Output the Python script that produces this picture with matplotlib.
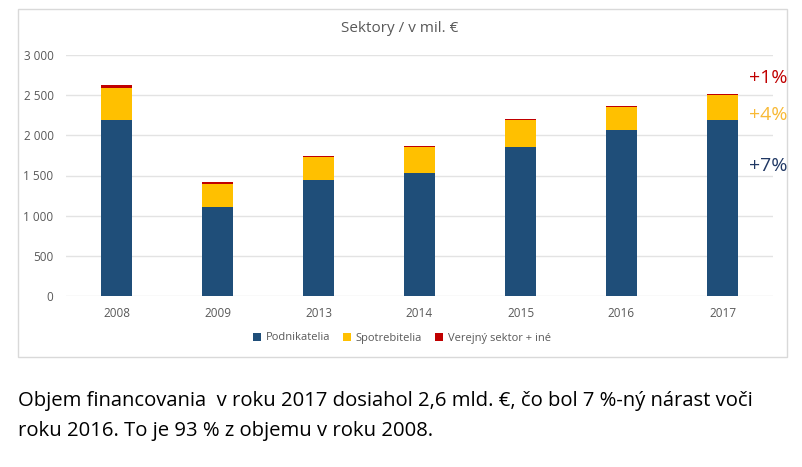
import numpy as np
import matplotlib.pyplot as plt
from matplotlib.patches import Rectangle

# Data (mil. EUR)
years = ['2008', '2009', '2013', '2014', '2015', '2016', '2017']
podnikatelia = [2190, 1105, 1440, 1530, 1860, 2065, 2195]
spotrebitelia = [405, 290, 295, 330, 330, 292, 307]
verejny = [33, 28, 12, 12, 12, 13, 15]
growth_labels = ['+1%', '+4%', '+7%']
series_names = ['Podnikatelia', 'Spotrebitelia', 'Verejný sektor + iné']

c_blue = '#1F4E79'
c_yellow = '#FFC000'
c_red = '#C00000'
grey = '#595959'

plt.rcParams['font.family'] = ['Open Sans', 'DejaVu Sans']

W, H = 802, 467
fig = plt.figure(figsize=(W / 100, H / 100), dpi=100)
fig.patch.set_facecolor('white')

# chart frame
fig.patches.append(Rectangle((18 / W, 1 - 357 / H), (787 - 18) / W, (357 - 9) / H,
                             transform=fig.transFigure, fill=False,
                             edgecolor='#D9D9D9', linewidth=1))

ax = fig.add_axes([66 / W, 1 - 296 / H, (773 - 66) / W, (296 - 55) / H])
x = np.arange(len(years))
w = 0.31
b1 = np.array(podnikatelia)
b2 = b1 + np.array(spotrebitelia)

ax.bar(x, podnikatelia, w, color=c_blue, label=series_names[0], zorder=3)
ax.bar(x, spotrebitelia, w, bottom=b1, color=c_yellow, label=series_names[1], zorder=3)
ax.bar(x, verejny, w, bottom=b2, color=c_red, label=series_names[2], zorder=3)

ax.set_xlim(-0.5, len(years) - 0.5)
ax.set_ylim(0, 3000)
ax.set_yticks(range(0, 3001, 500))
ax.set_yticklabels([f'{v:,}'.replace(',', ' ') for v in range(0, 3001, 500)])
ax.set_xticks(x)
ax.set_xticklabels(years)
ax.tick_params(axis='both', length=0, labelsize=8.5, colors=grey)
ax.tick_params(axis='y', pad=9)
ax.tick_params(axis='x', pad=8)
ax.grid(axis='y', color='#E3E3E3', linewidth=1, zorder=0)
for s in ax.spines.values():
    s.set_visible(False)

fig.text(400 / W, 1 - 29 / H, 'Sektory / v mil. €', ha='center', va='center',
         fontsize=11, color=grey)

ax.legend(loc='center', bbox_to_anchor=(402 / W, 1 - 338 / H),
          bbox_transform=fig.transFigure, ncol=3, frameon=False,
          fontsize=8, handlelength=0.7, handleheight=0.7,
          handletextpad=0.4, columnspacing=1.2, labelcolor=grey)

# growth labels next to last bar
for lbl, yc, col in zip(growth_labels, [78, 115, 166], [c_red, '#F8B935', '#203864']):
    fig.text(749 / W, 1 - yc / H, lbl, ha='left', va='center', fontsize=14, color=col)

fig.text(18 / W, 1 - 401 / H,
         'Objem financovania  v roku 2017 dosiahol 2,6 mld. €, čo bol 7 %-ný nárast voči',
         ha='left', va='center', fontsize=14.6, color='black')
fig.text(18 / W, 1 - 431 / H,
         'roku 2016. To je 93 % z objemu v roku 2008.',
         ha='left', va='center', fontsize=14.6, color='black')

fig.savefig('out.png', dpi=100)
